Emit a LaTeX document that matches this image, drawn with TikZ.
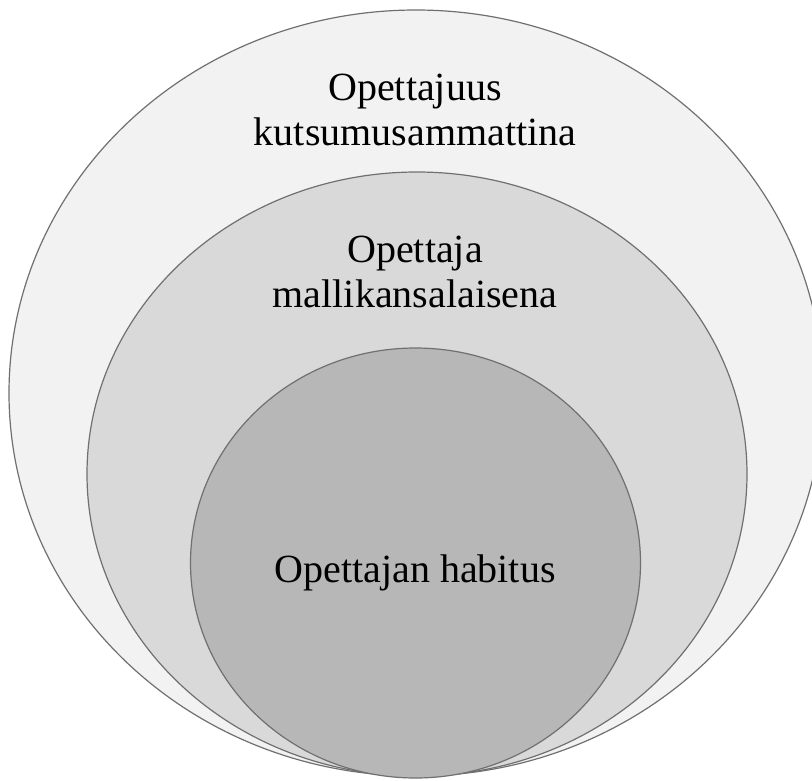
\documentclass[tikz,border=0pt]{standalone}
\usepackage{fontspec}
\setmainfont{Liberation Serif}
\definecolor{ringA}{HTML}{F2F2F2}
\definecolor{ringB}{HTML}{D9D9D9}
\definecolor{ringC}{HTML}{B7B7B7}
\definecolor{edgegray}{HTML}{707070}
\begin{document}
\begin{tikzpicture}[x=1pt,y=-1pt,
  ring/.style={draw=edgegray,line width=1.2pt},
  lbl/.style={anchor=base,inner sep=0pt,font=\fontsize{40}{45}\selectfont,text=black}]
\useasboundingbox (0,0) rectangle (812,780);
\clip (0,0) rectangle (812,780);
\fill[white] (0,0) rectangle (812,780);
\draw[ring,fill=ringA] (416,393) ellipse [x radius=407, y radius=383];
\draw[ring,fill=ringB] (417,474) ellipse [x radius=330, y radius=302];
\draw[ring,fill=ringC] (415.5,563) ellipse [x radius=225, y radius=215];
\node[lbl] (outerA) at (415,100) {Opettajuus};
\node[lbl] (outerB) at (415,145) {kutsumusammattina};
\node[lbl] (middleA) at (415,262) {Opettaja};
\node[lbl] (middleB) at (415,307) {mallikansalaisena};
\node[lbl] (inner) at (415,582) {Opettajan habitus};
\end{tikzpicture}
\end{document}
